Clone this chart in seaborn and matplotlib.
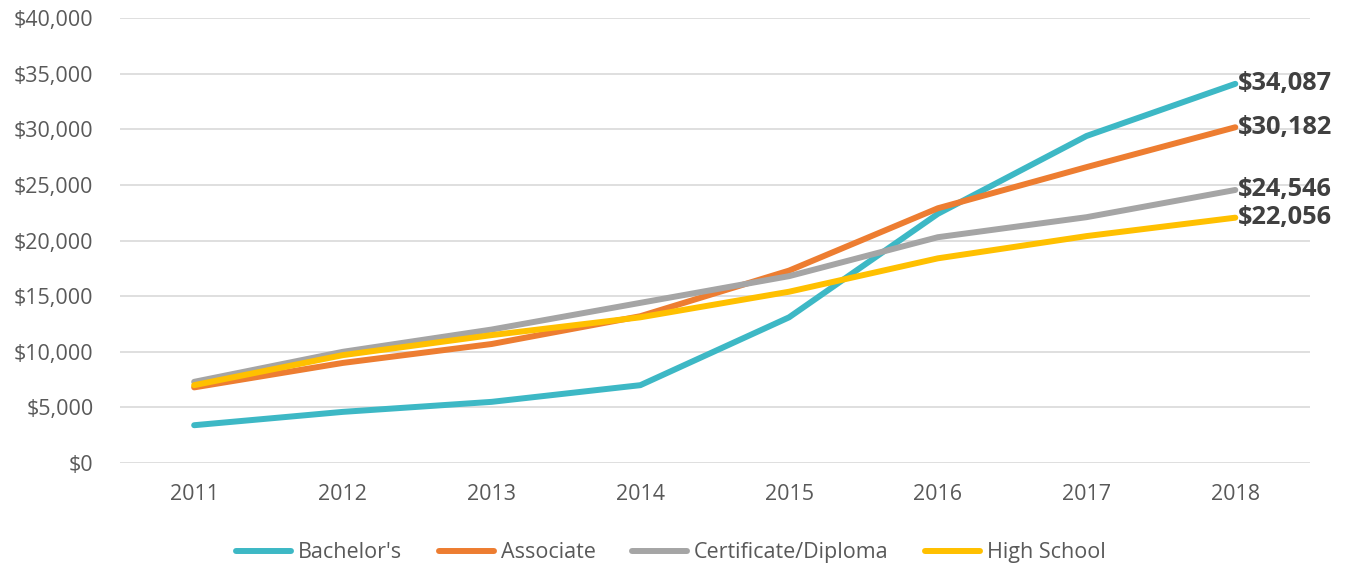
import matplotlib
matplotlib.use("Agg")
import matplotlib.pyplot as plt
import matplotlib.ticker as mticker
import pandas as pd
import seaborn as sns

# values
years = [2011, 2012, 2013, 2014, 2015, 2016, 2017, 2018]
bachelors = [3400, 4600, 5500, 7000, 13100, 22400, 29400, 34087]
associate = [6800, 9000, 10700, 13200, 17300, 22900, 26600, 30182]
certificate = [7300, 10000, 12000, 14400, 16800, 20300, 22100, 24546]
high_school = [7000, 9700, 11500, 13100, 15400, 18400, 20400, 22056]

series = {
    "Bachelor's": bachelors,
    "Associate": associate,
    "Certificate/Diploma": certificate,
    "High School": high_school,
}
colors = ["#3DB8C5", "#ED7D31", "#A5A5A5", "#FFC000"]

rows = []
for name, vals in series.items():
    for yr, v in zip(years, vals):
        rows.append({"year": yr, "value": v, "degree": name})
df = pd.DataFrame(rows)

sns.set_style("white")
plt.rcParams["font.family"] = ["Open Sans", "DejaVu Sans"]

fig = plt.figure(figsize=(13.46, 5.64), dpi=100)
ax = fig.add_axes([0.089, 0.179, 0.884, 0.789])

sns.lineplot(
    data=df, x="year", y="value", hue="degree", palette=colors,
    linewidth=4.3, ax=ax, legend=True,
)
for line in ax.lines:
    line.set_solid_capstyle("round")

ax.set_xlim(2010.5, 2018.5)
ax.set_ylim(0, 40000)
ax.set_xticks(years)
ax.set_yticks(range(0, 40001, 5000))
ax.yaxis.set_major_formatter(mticker.FuncFormatter(lambda v, p: f"${v:,.0f}"))
ax.tick_params(axis="both", length=0, labelsize=15.5, labelcolor="#595959")
ax.tick_params(axis="y", pad=19)
ax.tick_params(axis="x", pad=15)
ax.grid(axis="y", color="#D9D9D9", linewidth=1.2)
ax.set_axisbelow(True)
for s in ax.spines.values():
    s.set_visible(False)
ax.set_xlabel("")
ax.set_ylabel("")

# end labels
for name, vals in series.items():
    ax.text(years[-1] + 0.02, vals[-1], f"${vals[-1]:,}", fontsize=18.3,
            fontweight="bold", color="#404040", va="center", ha="left")

handles, labels = ax.get_legend_handles_labels()
ax.get_legend().remove()
leg = fig.legend(handles, labels, loc="center", bbox_to_anchor=(0.4985, 0.02),
                 ncol=4, frameon=False, fontsize=15.5, handlelength=2.55,
                 columnspacing=1.7, handletextpad=0.33)
for t in leg.get_texts():
    t.set_color("#595959")
for h in leg.get_lines():
    h.set_linewidth(4.3)
    h.set_solid_capstyle("round")

fig.savefig("out.png", dpi=100)
